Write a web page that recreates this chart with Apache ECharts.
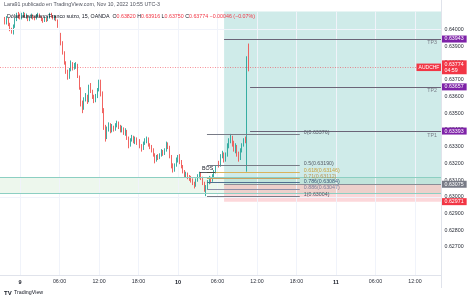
<!DOCTYPE html>
<html><head><meta charset="utf-8">
<script src="https://cdn.jsdelivr.net/npm/echarts@6/dist/echarts.min.js"></script>
<style>html,body{margin:0;padding:0;background:#fff}#c{width:474px;height:301px}</style>
</head><body><div id="c"></div>
<script>
// ---- DATA (AUDCHF, 15 min, OANDA, times UTC-3) ----
const startHour = -2.25;   // first candle: Nov 8 21:45 (hours from Nov 9 00:00)
const stepHours = 0.25;    // 15-minute candles
const firstOpen = 0.64060;
const closes = [
 0.64040,0.64065,0.64030,0.64000,0.63990,0.64020,0.64060,0.64090,0.64080,
 0.64070,0.64085,0.64095,0.64075,0.64080,0.64060,0.64070,0.64085,0.64070,0.64065,0.64080,0.64090,0.64075,0.64060,0.64050,0.64065,0.64055,0.64070,0.64090,0.64080,0.64065,0.64070,0.64055,
 0.64020,0.63970,0.63920,0.63860,0.63800,0.63750,0.63715,
 0.63760,0.63795,0.63770,0.63780,0.63790,0.63720,
 0.63650,0.63560,0.63530,0.63580,0.63600,0.63570,0.63650,0.63630,0.63600,0.63575,0.63600,0.63640,0.63685,
 0.63620,0.63520,0.63420,0.63360,
 0.63400,0.63430,0.63395,0.63420,0.63405,0.63425,0.63440,0.63420,0.63395,0.63410,0.63385,0.63395,0.63350,0.63320,0.63340,0.63360,0.63335,0.63350,0.63325,0.63340,0.63300,0.63290,0.63320,0.63335,0.63345,0.63310,0.63300,0.63280,0.63250,0.63215,0.63240,0.63230,0.63250,0.63270,0.63255,0.63280,0.63320,0.63300,0.63240,0.63190,0.63160,
 0.63190,0.63220,0.63235,0.63210,0.63180,0.63150,0.63125,0.63140,0.63120,0.63110,0.63100,0.63080,0.63070,0.63100,0.63120,0.63140,0.63110,0.63080,0.63040,0.63060,
 0.63090,0.63110,0.63095,0.63120,0.63150,0.63170,0.63200,0.63185,0.63240,0.63260,0.63220,0.63250,0.63300,0.63330,0.63360,0.63320,0.63290,0.63305,0.63260,0.63230,0.63280,0.63310,0.63340,0.63335,0.63820,0.63774
];
const highs = [
 0.64075,0.64080,0.64070,0.64040,0.64010,0.64030,0.64070,0.64100,0.64105,
 0.64095,0.64100,0.64105,0.64100,0.64095,0.64085,0.64080,0.64095,0.64090,0.64080,0.64090,0.64100,0.64095,0.64080,0.64070,0.64075,0.64070,0.64080,0.64100,0.64100,0.64085,0.64085,0.64080,
 0.64060,0.64025,0.63980,0.63930,0.63870,0.63810,0.63760,
 0.63770,0.63815,0.63805,0.63800,0.63805,0.63795,
 0.63725,0.63655,0.63575,0.63595,0.63620,0.63610,0.63670,0.63680,0.63640,0.63610,0.63615,0.63650,0.63700,
 0.63700,0.63630,0.63530,0.63430,
 0.63420,0.63445,0.63440,0.63435,0.63425,0.63440,0.63455,0.63450,0.63430,0.63425,0.63415,0.63410,0.63400,0.63360,0.63350,0.63370,0.63365,0.63360,0.63355,0.63350,0.63345,0.63315,0.63330,0.63350,0.63360,0.63355,0.63320,0.63310,0.63290,0.63260,0.63250,0.63255,0.63260,0.63285,0.63280,0.63290,0.63330,0.63325,0.63305,0.63250,0.63200,
 0.63200,0.63235,0.63250,0.63255,0.63220,0.63190,0.63160,0.63150,0.63145,0.63130,0.63125,0.63110,0.63090,0.63110,0.63135,0.63150,0.63148,0.63120,0.63090,0.63070,
 0.63100,0.63125,0.63120,0.63135,0.63160,0.63185,0.63215,0.63215,0.63255,0.63275,0.63265,0.63265,0.63320,0.63350,0.63376,0.63365,0.63335,0.63320,0.63310,0.63270,0.63290,0.63320,0.63350,0.63360,0.63840,0.63916
];
const lows = [
 0.64030,0.64030,0.64020,0.63990,0.63975,0.63970,0.64010,0.64050,0.64065,
 0.64060,0.64060,0.64075,0.64070,0.64065,0.64050,0.64050,0.64065,0.64060,0.64055,0.64060,0.64075,0.64070,0.64050,0.64040,0.64045,0.64045,0.64050,0.64065,0.64070,0.64060,0.64055,0.64050,
 0.64010,0.63960,0.63905,0.63850,0.63790,0.63735,0.63700,
 0.63705,0.63750,0.63755,0.63760,0.63765,0.63710,
 0.63640,0.63540,0.63500,0.63520,0.63570,0.63555,0.63565,0.63620,0.63585,0.63560,0.63565,0.63590,0.63630,
 0.63600,0.63500,0.63400,0.63330,
 0.63345,0.63390,0.63380,0.63385,0.63390,0.63395,0.63415,0.63405,0.63385,0.63385,0.63370,0.63365,0.63340,0.63290,0.63300,0.63330,0.63320,0.63315,0.63310,0.63305,0.63290,0.63270,0.63280,0.63310,0.63320,0.63300,0.63285,0.63265,0.63240,0.63200,0.63210,0.63220,0.63225,0.63240,0.63245,0.63250,0.63270,0.63285,0.63230,0.63170,0.63145,
 0.63150,0.63180,0.63205,0.63195,0.63170,0.63140,0.63115,0.63115,0.63105,0.63095,0.63085,0.63070,0.63050,0.63060,0.63090,0.63110,0.63100,0.63070,0.63030,0.63004,
 0.63045,0.63075,0.63080,0.63090,0.63115,0.63140,0.63160,0.63175,0.63180,0.63230,0.63205,0.63210,0.63240,0.63290,0.63320,0.63300,0.63270,0.63260,0.63240,0.63210,0.63220,0.63265,0.63300,0.63320,0.63150,0.63750
];
const priceTicks = [0.627,0.628,0.629,0.630,0.631,0.632,0.633,0.634,0.635,0.636,0.637,0.638,0.639,0.640];
const timeTicks = [0,6,12,18,24,30,36,42,48,54,60];
const firstDay = 9;
const fibRatios = [0, 0.5, 0.618, 0.71, 0.786, 0.886, 1];
const fibPrices = [0.63376, 0.63190, 0.63146, 0.63112, 0.63084, 0.63047, 0.63004];
const tpNames = ['TP1','TP2','TP3'];
const tpPrices = [0.63393, 0.63657, 0.63943];
const entryPrice = 0.63075, stopPrice = 0.62971;
const zonePrices = [0.63021, 0.63118];
const bosPrice = 0.63148;
const countdown = '04:59';
// drawing anchor times (hours from Nov 9 00:00)
const fibStart = 28.4, fibEnd = 42.5;
const boxStart = 31.0, tpStart = 34.95;
const bosStart = 27.3, bosEnd = 29.7;

// ---- view ----
const xMin = -3.04, xMax = 64.03;
const yMax = 0.641076, yMin = 0.625326;
const UP = '#26a69a', DN = '#ef5350';
const FONT = 'Liberation Sans, Arial, sans-serif';
const NONE = 'rgba(0,0,0,0)';

const candleData = closes.map((c, i) => {
  const o = i === 0 ? firstOpen : closes[i - 1];
  return [startHour + i * stepHours, o, c, Math.min(lows[i], o, c), Math.max(highs[i], o, c)];
});
const last = candleData[candleData.length - 1];
const f5 = v => v.toFixed(5);

const fibColors = ['#787b86','#787b86','#d9b25c','#c9a063','#4f6f8f','#8c8fa8','#787b86'];
const fibTextColors = ['#555a66','#555a66','#c9a23f','#b89354','#3b5676','#7d7f99','#555a66'];

const gridLines = [];
priceTicks.forEach(v => gridLines.push({ yAxis: v }));
timeTicks.forEach(v => gridLines.push({ xAxis: v }));

const tag = (text, bg) => ({ show: true, position: 'end', distance: 0, formatter: text, backgroundColor: bg, color: '#fff',
  fontSize: 5.3, padding: [1.2, 3, 0.8, 3], fontFamily: FONT });

const lines = [];
// current price line with axis tag
lines.push([{ coord: [xMin, last[2]], lineStyle: { color: 'rgba(242,54,69,0.55)', type: [1, 1.5], width: 1 },
  label: { show: true, position: 'end', distance: 0, formatter: f5(last[2]) + '\n' + countdown, backgroundColor: '#f23645', color: '#fff', fontSize: 5.3, lineHeight: 6.3, padding: [0.8, 3, 0.5, 3], fontFamily: FONT } },
  { coord: [xMax, last[2]] }]);
// zone borders
zonePrices.forEach(p => lines.push([{ coord: [xMin, p], lineStyle: { color: '#8ccfc2', width: 1, type: 'solid' }, label: { show: false } }, { coord: [xMax, p] }]));
// TP lines
tpPrices.forEach((p, k) => {
  const s = k === 2 ? boxStart : tpStart;
  lines.push([{ coord: [s, p], lineStyle: { color: '#6b6478', width: 1, type: 'solid' }, label: tag(f5(p), '#7e22a8') },
    { coord: [xMax, p] }]);
  lines.push([{ coord: [s, p], lineStyle: { color: NONE, width: 1 },
    label: { show: true, position: 'insideEndBottom', distance: 1.5, formatter: tpNames[k], color: '#787b86', fontSize: 5.3, fontFamily: FONT, padding: [0, 3, 0, 0] } },
    { coord: [xMax, p] }]);
});
// entry / stop
lines.push([{ coord: [boxStart, entryPrice], lineStyle: { color: '#8a8d96', width: 1, type: 'solid' }, label: tag(f5(entryPrice), '#787b86') },
  { coord: [xMax, entryPrice] }]);
lines.push([{ coord: [boxStart, stopPrice], lineStyle: { color: NONE, width: 1 }, label: tag(f5(stopPrice), '#f23645') },
  { coord: [xMax, stopPrice] }]);
// fib levels
fibPrices.forEach((p, k) => {
  lines.push([{ coord: [fibStart, p], lineStyle: { color: fibColors[k], width: 1, type: 'solid' },
    label: { show: true, position: 'end', distance: 4, offset: [0, -1.5], formatter: fibRatios[k] + '(' + f5(p) + ')', color: fibTextColors[k], fontSize: 5.3, fontFamily: FONT } },
    { coord: [fibEnd, p] }]);
});
// BOS
lines.push([{ coord: [bosStart, bosPrice], lineStyle: { color: '#2a2e39', width: 0.8, type: 'solid' },
  label: { show: true, position: 'middle', distance: 1, formatter: 'BOS', color: '#131722', fontSize: 5.3, fontFamily: FONT } },
  { coord: [bosEnd, bosPrice] }]);

const ohlcText = '{n|Dólar australiano/Franco suizo, 15, OANDA  O}{r|' + f5(last[1]) + '}{n| H}{r|' + f5(last[4]) +
  '}{n| L}{r|' + f5(last[3]) + '}{n| C}{r|' + f5(last[2]) + '}{r| −' + (last[1] - last[2]).toFixed(5) + ' (−' +
  ((last[1] - last[2]) / last[1] * 100).toFixed(2) + '%)}';

const chart = echarts.init(document.getElementById('c'), null, { renderer: 'canvas' });
chart.setOption({
  animation: false,
  backgroundColor: '#ffffff',
  textStyle: { fontFamily: FONT },
  grid: { left: 0, right: 32.5, top: 11.5, bottom: 26, outerBoundsMode: 'none', containLabel: false },
  xAxis: {
    type: 'value', min: xMin, max: xMax,
    axisLine: { show: true, lineStyle: { color: '#e0e3eb', width: 1 } },
    axisTick: { show: false },
    splitLine: { show: false },
    axisLabel: {
      customValues: timeTicks, margin: 4, fontSize: 5.3, color: '#2a2e39', fontFamily: FONT,
      formatter: v => (v % 24 === 0) ? '{b|' + (firstDay + v / 24) + '}' : String(v % 24).padStart(2, '0') + ':00',
      rich: { b: { fontWeight: 'bold', fontSize: 5.5, color: '#131722', fontFamily: FONT } }
    }
  },
  yAxis: {
    type: 'value', position: 'right', min: yMin, max: yMax, scale: true,
    axisLine: { show: true, lineStyle: { color: '#e0e3eb', width: 1 } },
    axisTick: { show: false },
    splitLine: { show: false },
    axisLabel: { customValues: priceTicks, margin: 3, fontSize: 5.3, color: '#2a2e39', fontFamily: FONT, formatter: v => v.toFixed(5) }
  },
  graphic: [
    { type: 'line', shape: { x1: 441.5, y1: 0, x2: 441.5, y2: 288 }, style: { stroke: '#e0e3eb', lineWidth: 1 }, z: 50 },
    { type: 'text', left: 4, top: 2, style: { text: 'Lara91 publicado en TradingView.com, Nov 10, 2022 10:55 UTC-3', fontSize: 5.3, fill: '#50535e', fontFamily: FONT }, z: 60 },
    { type: 'text', left: 7, top: 14.5, style: { text: ohlcText, fontSize: 5.3, fontFamily: FONT,
        rich: { n: { fill: '#131722', fontSize: 5.3, fontFamily: FONT }, r: { fill: '#f23645', fontSize: 5.3, fontFamily: FONT } } }, z: 60 },
    { type: 'text', left: 4, top: 290, style: { text: 'TV', fontSize: 6, fontWeight: 900, fill: '#131722', fontFamily: FONT }, z: 60 },
    { type: 'text', left: 14, top: 290.5, style: { text: 'TradingView', fontSize: 5.3, fill: '#131722', fontFamily: FONT }, z: 60 }
  ],
  series: [
    {
      type: 'line', data: [], z: 1, silent: true,
      markLine: { silent: true, symbol: ['none', 'none'], label: { show: false },
        lineStyle: { color: '#f0f3fa', width: 1, type: 'solid' }, data: gridLines },
      markArea: { silent: true, data: [
        [{ coord: [xMin, zonePrices[0]], itemStyle: { color: 'rgba(76,175,80,0.1)' } }, { coord: [xMax, zonePrices[1]] }],
        [{ coord: [boxStart, entryPrice], itemStyle: { color: 'rgba(38,166,154,0.22)' } }, { coord: [xMax, yMax] }],
        [{ coord: [boxStart, stopPrice], itemStyle: { color: 'rgba(242,54,69,0.2)' } }, { coord: [xMax, entryPrice] }]
      ] }
    },
    {
      type: 'candlestick', z: 3,
      dimensions: ['t', 'open', 'close', 'lowest', 'highest'],
      encode: { x: 't', y: ['open', 'close', 'lowest', 'highest'] },
      data: candleData, barWidth: 1.1,
      itemStyle: { color: UP, color0: DN, borderColor: UP, borderColor0: DN, borderWidth: 0.9 }
    },
    {
      type: 'line', data: [], z: 5, silent: true,
      markLine: { silent: true, symbol: ['none', 'none'], data: lines },
      markPoint: { silent: true, data: [
        { coord: [xMax, last[2]], symbol: 'rect', symbolSize: [25, 7.5], symbolOffset: [-12.5, 0],
          itemStyle: { color: '#f23645' },
          label: { show: true, position: 'inside', formatter: 'AUDCHF', color: '#fff', fontSize: 5, fontFamily: FONT } }
      ] }
    }
  ]
});
</script></body></html>
